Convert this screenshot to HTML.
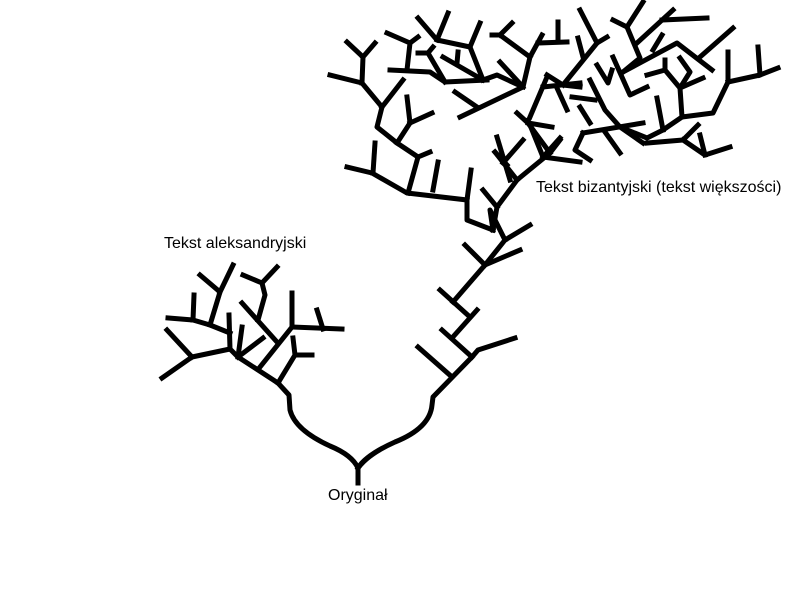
<!DOCTYPE html>
<html><head><meta charset="utf-8"><style>
html,body{margin:0;padding:0;background:#fff;}
svg{display:block}
text{font-family:"Liberation Sans",sans-serif;font-size:16px;fill:#000}
</style></head><body>
<svg width="800" height="600" viewBox="0 0 800 600" xmlns="http://www.w3.org/2000/svg">
<g fill="none" stroke="#000" stroke-width="5" stroke-linecap="square" stroke-linejoin="round">
<path d="M358,483 L358,468 Q352,455 330,446 Q295,430 290,410 L289,395 L278,383"/>
<path d="M358,468 Q366,455 395,442 Q430,428 432,405 L433,397 L472,357 L478,350 L515,338"/>
<polyline points="452,377 418,347"/>
<polyline points="472,357 442,330"/>
<polyline points="452,338 477,310"/>
<polyline points="470,317 440,290"/>
<polyline points="453,302 485,265 520,250"/>
<polyline points="485,265 465,245"/>
<polyline points="485,265 505,240 530,225"/>
<polyline points="505,240 490,210 493,230"/>
<polyline points="493,230 497,207 517,180 550,153 560,140"/>
<polyline points="278,383 238,357 230,349 192,357 162,378"/>
<polyline points="192,357 167,330"/>
<polyline points="230,349 229,315"/>
<polyline points="230,333 210,325 193,320 168,318"/>
<polyline points="193,320 194,295"/>
<polyline points="210,325 220,292 200,275"/>
<polyline points="220,292 233,265"/>
<polyline points="238,357 242,327"/>
<polyline points="238,357 263,338"/>
<polyline points="260,367 292,327 292,293"/>
<polyline points="292,327 342,329"/>
<polyline points="323,329 317,310"/>
<polyline points="278,383 295,355 293,338"/>
<polyline points="295,355 312,355"/>
<polyline points="277,342 242,303"/>
<polyline points="258,320 265,295 262,283 243,275"/>
<polyline points="262,283 277,267"/>
<polyline points="493,230 467,220 467,200 471,170"/>
<polyline points="497,207 483,190"/>
<polyline points="467,200 407,193 372,173 347,167"/>
<polyline points="373,173 375,143"/>
<polyline points="408,193 418,157 430,152"/>
<polyline points="418,157 397,143 377,127 382,107 362,83 330,75"/>
<polyline points="362,83 363,57 347,42"/>
<polyline points="363,57 375,43"/>
<polyline points="382,107 403,80"/>
<polyline points="397,143 410,123 407,97"/>
<polyline points="410,123 432,113"/>
<polyline points="433,190 438,162"/>
<polyline points="510,180 497,137"/>
<polyline points="503,163 523,140"/>
<polyline points="517,180 495,152"/>
<polyline points="507,165 495,152"/>
<polyline points="390,70 430,72 445,82 487,80"/>
<polyline points="407,70 410,43 387,33"/>
<polyline points="410,43 418,37"/>
<polyline points="445,82 428,53 418,53"/>
<polyline points="428,53 433,47"/>
<polyline points="443,57 483,80"/>
<polyline points="457,63 458,52"/>
<polyline points="483,80 470,47 437,40 418,18"/>
<polyline points="437,40 448,13"/>
<polyline points="470,47 480,23"/>
<polyline points="483,80 497,75 523,87 500,62"/>
<polyline points="523,87 530,57 542,35"/>
<polyline points="530,57 500,35 492,35"/>
<polyline points="500,35 512,23"/>
<polyline points="538,43 567,42"/>
<polyline points="558,22 558,42"/>
<polyline points="523,87 460,117"/>
<polyline points="477,107 455,92"/>
<polyline points="550,153 528,123 517,113"/>
<polyline points="528,123 552,127"/>
<polyline points="530,117 547,77"/>
<polyline points="543,87 580,83"/>
<polyline points="557,88 567,110"/>
<polyline points="580,10 597,43 607,37"/>
<polyline points="597,43 563,85 580,87"/>
<polyline points="578,38 583,57"/>
<polyline points="563,85 547,75"/>
<polyline points="528,120 543,157 580,162"/>
<polyline points="543,157 560,138"/>
<polyline points="583,133 643,123"/>
<polyline points="590,123 580,107"/>
<polyline points="605,132 620,153"/>
<polyline points="572,97 595,100"/>
<polyline points="590,80 605,110 620,127 643,143"/>
<polyline points="613,57 630,95 647,87"/>
<polyline points="597,65 608,83 612,70"/>
<polyline points="613,20 627,27 643,2"/>
<polyline points="627,27 640,58 623,72"/>
<polyline points="637,43 673,10"/>
<polyline points="662,20 707,18"/>
<polyline points="653,50 662,35"/>
<polyline points="623,72 677,43 712,70"/>
<polyline points="700,57 733,28"/>
<polyline points="647,75 665,70 680,88 690,72 680,58"/>
<polyline points="665,70 665,60"/>
<polyline points="680,88 703,78"/>
<polyline points="680,88 682,117 713,113 728,82 728,52"/>
<polyline points="728,82 760,75 758,47"/>
<polyline points="760,75 778,68"/>
<polyline points="657,98 663,130"/>
<polyline points="682,117 663,130 647,138 620,127"/>
<polyline points="647,143 683,140 698,125"/>
<polyline points="683,140 705,155 730,147"/>
<polyline points="705,155 700,135"/>
<polyline points="583,133 575,150 590,160"/>
</g>
<text x="536" y="192">Tekst bizantyjski (tekst większości)</text>
<text x="164" y="248">Tekst aleksandryjski</text>
<text x="328" y="500">Oryginał</text>
</svg>
</body></html>
